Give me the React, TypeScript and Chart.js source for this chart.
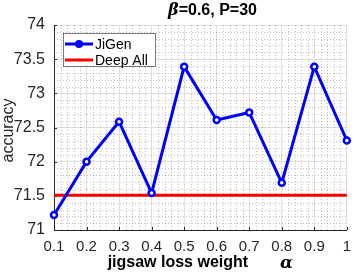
import { useEffect, useRef } from 'react';
import { Chart, registerables } from 'chart.js';

Chart.register(...registerables);

const alphaValues = [0.1, 0.2, 0.3, 0.4, 0.5, 0.6, 0.7, 0.8, 0.9, 1.0];
const jigenAccuracy = [71.22, 72.0, 72.585, 71.54, 73.39, 72.61, 72.72, 71.69, 73.39, 72.31];
const deepAllAlpha = [0.1, 1.0];
const deepAllAccuracy = [71.51, 71.51];

const xTicks = [0.1, 0.2, 0.3, 0.4, 0.5, 0.6, 0.7, 0.8, 0.9, 1.0];
const xTickLabels = ['0.1', '0.2', '0.3', '0.4', '0.5', '0.6', '0.7', '0.8', '0.9', '1'];
const yTicks = [71, 71.5, 72, 72.5, 73, 73.5, 74];
const yTickLabels = ['71', '71.5', '72', '72.5', '73', '73.5', '74'];

const seriesLabels = ['JiGen', 'Deep All'];
const titleBeta = 'β';
const titleRest = '=0.6, P=30';
const xTitleMain = 'jigsaw loss weight';
const xTitleSymbol = 'α';
const yTitle = 'accuracy';

const FONT = '"Liberation Sans", Arial, Helvetica, sans-serif';
const AXIS_COLOR = '#262626';

const decorPlugin = {
  id: 'decor',
  beforeDatasetsDraw(chart: any) {
    const { ctx, chartArea: a, scales } = chart;
    const xs = scales.x;
    const ys = scales.y;
    ctx.save();
    ctx.strokeStyle = 'rgba(40,40,40,0.28)';
    ctx.lineWidth = 1;
    ctx.setLineDash([1, 2]);
    for (let i = 0; i < xTicks.length - 1; i++) {
      for (let k = 1; k < 5; k++) {
        const v = xTicks[i] + ((xTicks[i + 1] - xTicks[i]) * k) / 5;
        const px = Math.round(xs.getPixelForValue(v)) + 0.5;
        ctx.beginPath();
        ctx.moveTo(px, a.top);
        ctx.lineTo(px, a.bottom);
        ctx.stroke();
      }
    }
    for (let i = 0; i < yTicks.length - 1; i++) {
      for (let k = 1; k < 5; k++) {
        const v = yTicks[i] + ((yTicks[i + 1] - yTicks[i]) * k) / 5;
        const py = Math.round(ys.getPixelForValue(v)) + 0.5;
        ctx.beginPath();
        ctx.moveTo(a.left, py);
        ctx.lineTo(a.right, py);
        ctx.stroke();
      }
    }
    ctx.setLineDash([]);
    ctx.strokeStyle = AXIS_COLOR;
    for (const v of yTicks) {
      const py = Math.round(ys.getPixelForValue(v)) + 0.5;
      ctx.beginPath();
      ctx.moveTo(a.left, py);
      ctx.lineTo(a.left + 3, py);
      ctx.stroke();
    }
    for (const v of xTicks) {
      const px = Math.round(xs.getPixelForValue(v)) + 0.5;
      ctx.beginPath();
      ctx.moveTo(px, a.bottom);
      ctx.lineTo(px, a.bottom - 3);
      ctx.stroke();
    }
    ctx.restore();
  },
  afterDraw(chart: any) {
    const { ctx, chartArea: a } = chart;
    ctx.save();
    // legend
    const lx = a.left + 9;
    const ly = a.top + 8;
    const lw = 92;
    const lh = 33;
    ctx.fillStyle = '#ffffff';
    ctx.fillRect(lx, ly, lw, lh);
    ctx.strokeStyle = '#262626';
    ctx.lineWidth = 0.6;
    ctx.strokeRect(lx + 0.5, ly + 0.5, lw, lh);
    const ds = chart.data.datasets;
    const rows = [ly + 11, ly + 27];
    ds.forEach((d: any, i: number) => {
      const y = rows[i];
      ctx.strokeStyle = d.borderColor;
      ctx.lineWidth = 3;
      ctx.beginPath();
      ctx.moveTo(lx + 2, y);
      ctx.lineTo(lx + 30, y);
      ctx.stroke();
      if (d.pointRadius > 0) {
        ctx.fillStyle = d.borderColor;
        ctx.beginPath();
        ctx.arc(lx + 16, y, 4, 0, Math.PI * 2);
        ctx.fill();
      }
      ctx.fillStyle = '#000000';
      ctx.font = `14px ${FONT}`;
      ctx.textAlign = 'left';
      ctx.textBaseline = 'middle';
      ctx.fillText(d.label, lx + 32, y + 1);
    });

    // title
    ctx.fillStyle = '#000000';
    ctx.textBaseline = 'middle';
    ctx.textAlign = 'left';
    const betaFont = 'italic bold 16px "DejaVu Serif", "Liberation Serif", serif';
    const restFont = `bold 16px ${FONT}`;
    ctx.font = betaFont;
    const wb = ctx.measureText(titleBeta).width;
    ctx.font = restFont;
    const wr = ctx.measureText(titleRest).width;
    const tcx = 212.5;
    const tx = tcx - (wb + wr) / 2;
    ctx.font = betaFont;
    ctx.fillText(titleBeta, tx, 11);
    ctx.font = restFont;
    ctx.fillText(titleRest, tx + wb, 11);

    // x title
    const mainFont = `bold 16px ${FONT}`;
    const symFont = 'italic bold 17px "DejaVu Serif", "Liberation Serif", serif';
    ctx.font = mainFont;
    const wm = ctx.measureText(xTitleMain).width;
    ctx.font = symFont;
    const ws = ctx.measureText(xTitleSymbol).width;
    const gap = 32;
    const xcx = (a.left + a.right) / 2;
    const xx = xcx - (wm + gap + ws) / 2;
    ctx.font = mainFont;
    ctx.fillText(xTitleMain, xx, 263);
    ctx.font = symFont;
    ctx.fillText(xTitleSymbol, xx + wm + gap, 264);

    // y title
    ctx.save();
    ctx.translate(9, (a.top + a.bottom) / 2 + 3);
    ctx.rotate(-Math.PI / 2);
    ctx.font = `16px ${FONT}`;
    ctx.textAlign = 'center';
    ctx.textBaseline = 'middle';
    ctx.fillStyle = AXIS_COLOR;
    ctx.fillText(yTitle, 0, 0);
    ctx.restore();

    ctx.restore();
  },
};

export default function App() {
  const ref = useRef<HTMLCanvasElement | null>(null);
  useEffect(() => {
    if (!ref.current) return;
    const chart = new Chart(ref.current, {
      type: 'line',
      data: {
        datasets: [
          {
            label: seriesLabels[0],
            data: alphaValues.map((x, i) => ({ x, y: jigenAccuracy[i] })),
            borderColor: '#0000ff',
            backgroundColor: '#ffffff',
            borderWidth: 3,
            pointRadius: 3,
            pointBorderWidth: 2.5,
            pointBackgroundColor: '#ffffff',
            pointBorderColor: '#0000ff',
            tension: 0,
            clip: false as any,
          },
          {
            label: seriesLabels[1],
            data: deepAllAlpha.map((x, i) => ({ x, y: deepAllAccuracy[i] })),
            borderColor: '#ff0000',
            backgroundColor: '#ff0000',
            borderWidth: 3,
            pointRadius: 0,
            tension: 0,
            clip: false as any,
          },
        ],
      },
      options: {
        animation: false,
        responsive: false,
        maintainAspectRatio: false,
        layout: { padding: { top: 25, right: 5, left: 0, bottom: 0 } },
        plugins: {
          legend: { display: false },
          title: { display: false },
          tooltip: { enabled: false },
        },
        scales: {
          x: {
            type: 'linear',
            min: 0.1,
            max: 1.0,
            afterBuildTicks: (scale: any) => {
              scale.ticks = xTicks.map((v) => ({ value: v }));
            },
            afterFit: (scale: any) => {
              scale.height = 43;
            },
            ticks: {
              autoSkip: false,
              maxRotation: 0,
              padding: 8,
              color: AXIS_COLOR,
              font: { family: FONT, size: 15 },
              callback: (_v: any, i: number) => xTickLabels[i],
            },
            grid: { color: '#dedede', lineWidth: 1, drawTicks: false },
            border: { color: AXIS_COLOR, width: 1 },
          },
          y: {
            type: 'linear',
            min: 71,
            max: 74,
            afterBuildTicks: (scale: any) => {
              scale.ticks = yTicks.map((v) => ({ value: v }));
            },
            afterFit: (scale: any) => {
              scale.width = 54;
            },
            ticks: {
              padding: 9,
              color: AXIS_COLOR,
              font: { family: FONT, size: 16 },
              callback: (_v: any, i: number) => yTickLabels[i],
            },
            grid: { color: '#dedede', lineWidth: 1, drawTicks: false },
            border: { color: AXIS_COLOR, width: 1 },
          },
        },
      },
      plugins: [decorPlugin],
    });
    return () => chart.destroy();
  }, []);
  return (
    <div style={{ position: 'fixed', left: 0, top: 0, width: 359, height: 273, background: '#fff' }}>
      <canvas ref={ref} width={359} height={273} style={{ display: 'block' }} />
    </div>
  );
}
